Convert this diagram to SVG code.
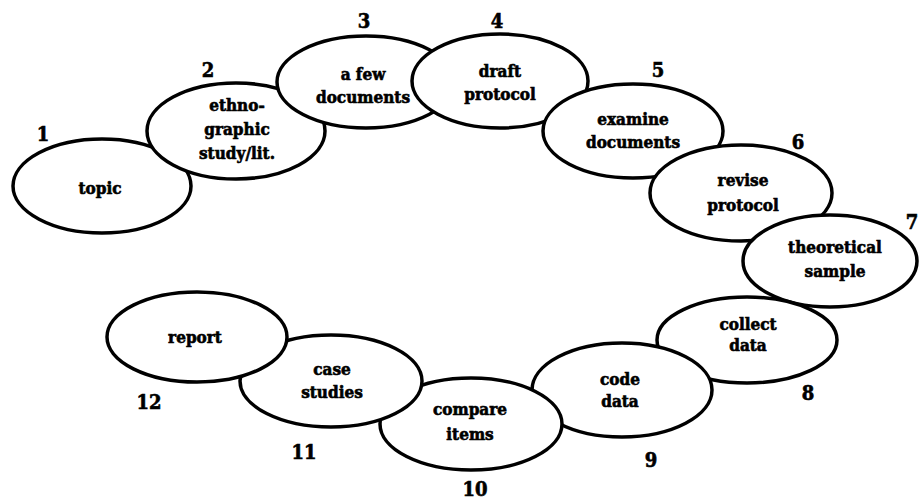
<svg xmlns="http://www.w3.org/2000/svg" width="919" height="500" viewBox="0 0 919 500">
  <style>
    .step ellipse { fill: #fff; stroke: #000; stroke-width: 3.5; }
    .lbl { font-size: 17px; stroke: #000; stroke-width: 0.6; }
    .num { font-size: 20px; stroke: #000; stroke-width: 0.6; }
  </style>
  <rect width="919" height="500" fill="#fff"/>

  <g font-family="DejaVu Serif Condensed, DejaVu Serif, Liberation Serif, serif" font-weight="bold" text-anchor="middle" fill="#000">
  <!-- ring of research steps; each later step overlaps the one before -->
  <g id="step1" class="step">
    <ellipse cx="102" cy="186" rx="89" ry="47"/>
    <text class="lbl" x="100" y="194">topic</text>
  </g>
  <g id="step2" class="step">
    <ellipse cx="236" cy="131" rx="89" ry="48"/>
    <text class="lbl" x="237" y="111">ethno-</text>
    <text class="lbl" x="237" y="135">graphic</text>
    <text class="lbl" x="237" y="159">study/lit.</text>
  </g>
  <g id="step3" class="step">
    <ellipse cx="366" cy="82" rx="89" ry="46"/>
    <text class="lbl" x="363" y="80">a few</text>
    <text class="lbl" x="363" y="103">documents</text>
  </g>
  <g id="step4" class="step">
    <ellipse cx="500" cy="81" rx="88" ry="47"/>
    <text class="lbl" x="500" y="77">draft</text>
    <text class="lbl" x="500" y="100">protocol</text>
  </g>
  <g id="step5" class="step">
    <ellipse cx="633" cy="131" rx="90" ry="47"/>
    <text class="lbl" x="633" y="125">examine</text>
    <text class="lbl" x="633" y="148">documents</text>
  </g>
  <g id="step6" class="step">
    <ellipse cx="741" cy="193" rx="91" ry="48"/>
    <text class="lbl" x="743" y="186">revise</text>
    <text class="lbl" x="743" y="211">protocol</text>
  </g>
  <g id="step7" class="step">
    <ellipse cx="830" cy="261" rx="87" ry="46"/>
    <text class="lbl" x="835" y="253">theoretical</text>
    <text class="lbl" x="835" y="277">sample</text>
  </g>
  <g id="step8" class="step">
    <ellipse cx="747" cy="340" rx="90" ry="43"/>
    <text class="lbl" x="748" y="330">collect</text>
    <text class="lbl" x="748" y="351">data</text>
  </g>
  <g id="step9" class="step">
    <ellipse cx="622" cy="390" rx="90" ry="47"/>
    <text class="lbl" x="620" y="385">code</text>
    <text class="lbl" x="620" y="407">data</text>
  </g>
  <g id="step10" class="step">
    <ellipse cx="471" cy="424" rx="91" ry="46"/>
    <text class="lbl" x="470" y="415">compare</text>
    <text class="lbl" x="470" y="440">items</text>
  </g>
  <g id="step11" class="step">
    <ellipse cx="331" cy="381" rx="91" ry="46"/>
    <text class="lbl" x="332" y="375">case</text>
    <text class="lbl" x="332" y="398">studies</text>
  </g>
  <g id="step12" class="step">
    <ellipse cx="197" cy="337" rx="90" ry="45"/>
    <text class="lbl" x="195" y="343">report</text>
  </g>

  <!-- step numbers -->
  <g id="numbers">
    <text class="num" x="43" y="141">1</text>
    <text class="num" x="208" y="77">2</text>
    <text class="num" x="364" y="28">3</text>
    <text class="num" x="497" y="28">4</text>
    <text class="num" x="658" y="77">5</text>
    <text class="num" x="798" y="149">6</text>
    <text class="num" x="912" y="229">7</text>
    <text class="num" x="808" y="400">8</text>
    <text class="num" x="651" y="467">9</text>
    <text class="num" x="475" y="496">10</text>
    <text class="num" x="304" y="459">11</text>
    <text class="num" x="149" y="409">12</text>
  </g>
  </g>

  <!-- no connectors: the steps touch directly -->
  <g id="connectors"/>
</svg>
